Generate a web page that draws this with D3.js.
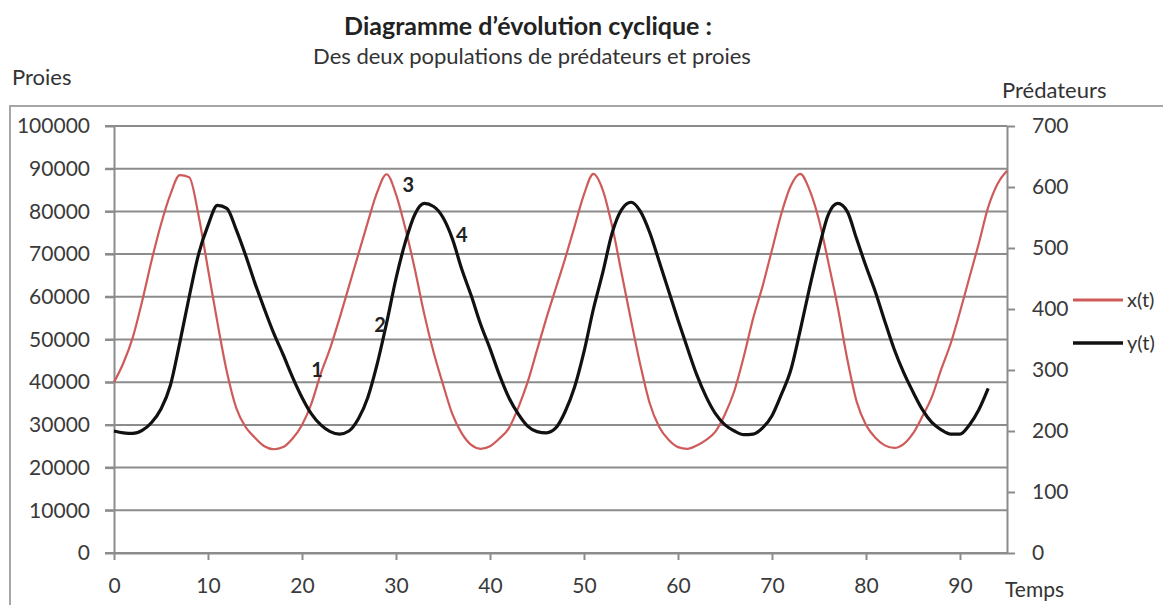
<!DOCTYPE html>
<html>
<head>
<meta charset="utf-8">
<script src="https://cdn.jsdelivr.net/npm/d3@7"></script>
<style>
	body { margin: 0; background: #fff; }
	text { font-family: Lato, "Open Sans", sans-serif; fill: #333; }
	.axis path, .axis line { stroke: #8c8c8c; stroke-width: 2; }
	.axis text { font-size: 21px; fill: #3a3a3a; }
	.grid line { stroke: #8c8c8c; stroke-width: 2; }
</style>
</head>
<body>
<div id="chart"></div>
<script>

// temps (t = 0 .. 95)
var temps = d3.range(0, 96);

// x(t) : proies (axe de gauche)
var proies = [
	40000, 44500, 50500, 59000, 68500, 77000, 84000, 88500, 88000, 79000,
	66500, 54000, 42500, 34000, 29500, 27000, 25000, 24300, 24800, 26800,
	30000, 35000, 42000, 48000, 55000, 62500, 70000, 77500, 84500, 88700,
	84000, 76000, 66500, 56000, 47000, 39500, 32500, 28000, 25300, 24400,
	25000, 26800, 29200, 34000, 40000, 47500, 55000, 62000, 69000, 76500,
	84000, 88800, 85000, 76500, 65500, 54500, 44000, 35000, 29500, 26500,
	24800, 24400, 25200, 26500, 28500, 32500, 38000, 46000, 55000, 62500,
	71000, 79500, 86000, 88800, 85000, 78000, 68000, 57500, 45500, 35500,
	30000, 27000, 25200, 24600, 25500, 28000, 32000, 36500, 43000, 49000,
	56500, 64500, 72500, 81000, 86500, 89500
];

// y(t) : predateurs (axe de droite), s'arrete a t = 93
var predateurs = [
	200, 197, 196, 201, 214, 236, 275, 345, 420, 490,
	537, 570, 565, 530, 488, 442, 400, 360, 325, 288,
	255, 228, 210, 199, 195, 200, 220, 255, 310, 377,
	450, 510, 555, 573, 568, 550, 515, 465, 422, 375,
	335, 292, 255, 228, 208, 199, 197, 205, 232, 272,
	330, 400, 460, 525, 563, 575, 560, 525, 478, 430,
	382, 336, 292, 256, 228, 210, 200, 194, 195, 205,
	225, 260, 300, 365, 435, 500, 555, 573, 560, 515,
	470, 428, 380, 334, 296, 264, 235, 214, 202, 195,
	195, 210, 235, 270
];

var xTicks = [0, 10, 20, 30, 40, 50, 60, 70, 80, 90];
var yLeftTicks = [0, 10000, 20000, 30000, 40000, 50000, 60000, 70000, 80000, 90000, 100000];
var yRightTicks = [0, 100, 200, 300, 400, 500, 600, 700];

// numeros places sur les courbes (t, valeur en proies)
var repereLabels = ["1", "2", "3", "4"];
var repereT = [21.6, 28.3, 31.3, 37.0];
var repereV = [42900, 53400, 86200, 74500];

var seriesNames = ["x(t)", "y(t)"];


/*
 *  CycleChart - Object constructor function
 *  @param _parentElement   -- HTML element in which to draw the visualization
 */

CycleChart = function(_parentElement) {

	this.parentElement = _parentElement;

	this.initVis();
}


/*
 *  Initialize chart
 */

CycleChart.prototype.initVis = function() {
	var vis = this;

	vis.W = 1163;
	vis.H = 605;
	vis.margin = {top: 126, right: 156, bottom: 52, left: 114};

	vis.width = vis.W - vis.margin.left - vis.margin.right;
	vis.height = vis.H - vis.margin.top - vis.margin.bottom;

	// DRAW SVG //
	vis.root = d3.select('#' + vis.parentElement).append("svg")
		.attr("width", vis.W)
		.attr("height", vis.H);

	// chart frame
	vis.root.append("rect")
		.attr("x", 10)
		.attr("y", 106)
		.attr("width", 1200)
		.attr("height", 600)
		.attr("fill", "none")
		.attr("stroke", "#a6a6a6")
		.attr("stroke-width", 2);

	vis.root.append("text")
		.attr("x", 528)
		.attr("y", 35)
		.attr("text-anchor", "middle")
		.style("font-size", "25px")
		.style("font-weight", "bold")
		.style("fill", "#222")
		.text("Diagramme d\u2019évolution cyclique :");

	vis.root.append("text")
		.attr("x", 532)
		.attr("y", 64)
		.attr("text-anchor", "middle")
		.style("font-size", "22px")
		.text("Des deux populations de prédateurs et proies");

	vis.root.append("text")
		.attr("x", 12)
		.attr("y", 85)
		.style("font-size", "22px")
		.text("Proies");

	vis.root.append("text")
		.attr("x", 1002)
		.attr("y", 98)
		.style("font-size", "22px")
		.text("Prédateurs");

	vis.svg = vis.root.append("g")
		.attr("transform", "translate(" + vis.margin.left + "," + vis.margin.top + ")");

	// SCALES //
	vis.x = d3.scaleLinear().domain([0, 95]).range([0, vis.width]);
	vis.yLeft = d3.scaleLinear().domain([0, 100000]).range([vis.height, 0]);
	vis.yRight = d3.scaleLinear().domain([0, 700]).range([vis.height, 0]);

	// gridlines
	vis.svg.append("g")
		.attr("class", "grid")
		.selectAll("line")
		.data(yLeftTicks)
		.enter().append("line")
		.attr("x1", -9)
		.attr("x2", vis.width)
		.attr("y1", function(d) { return vis.yLeft(d); })
		.attr("y2", function(d) { return vis.yLeft(d); });

	// AXES //
	vis.svg.append("g")
		.attr("class", "axis")
		.call(d3.axisLeft(vis.yLeft)
			.tickValues(yLeftTicks)
			.tickSize(9)
			.tickSizeOuter(0)
			.tickPadding(15)
			.tickFormat(d3.format("d")));

	vis.svg.append("g")
		.attr("class", "axis")
		.attr("transform", "translate(" + vis.width + ",0)")
		.call(d3.axisRight(vis.yRight)
			.tickValues(yRightTicks)
			.tickSize(8)
			.tickSizeOuter(0)
			.tickPadding(17));

	vis.svg.append("g")
		.attr("class", "axis")
		.attr("transform", "translate(0," + vis.height + ")")
		.call(d3.axisBottom(vis.x)
			.tickValues(xTicks)
			.tickSize(7)
			.tickSizeOuter(0)
			.tickPadding(18));

	vis.svg.append("text")
		.attr("x", vis.width - 2)
		.attr("y", vis.height + 44)
		.style("font-size", "21px")
		.text("Temps");

	vis.updateVis();
}


/*
 *  The drawing function
 */

CycleChart.prototype.updateVis = function() {
	var vis = this;

	var lineProies = d3.line()
		.x(function(d, i) { return vis.x(temps[i]); })
		.y(function(d) { return vis.yLeft(d); })
		.curve(d3.curveMonotoneX);

	var linePred = d3.line()
		.x(function(d, i) { return vis.x(temps[i]); })
		.y(function(d) { return vis.yRight(d); })
		.curve(d3.curveMonotoneX);

	vis.svg.append("path")
		.datum(proies)
		.attr("fill", "none")
		.attr("stroke", "#cf5a5a")
		.attr("stroke-width", 2.2)
		.attr("d", lineProies);

	vis.svg.append("path")
		.datum(predateurs)
		.attr("fill", "none")
		.attr("stroke", "#111")
		.attr("stroke-width", 3.2)
		.attr("d", linePred);

	// numeros 1..4
	vis.svg.selectAll(".repere")
		.data(repereLabels)
		.enter().append("text")
		.attr("class", "repere")
		.attr("x", function(d, i) { return vis.x(repereT[i]); })
		.attr("y", function(d, i) { return vis.yLeft(repereV[i]); })
		.attr("dy", "0.36em")
		.attr("text-anchor", "middle")
		.style("font-size", "20px")
		.style("font-weight", "bold")
		.style("fill", "#222")
		.text(function(d) { return d; });

	// LEGEND //
	var colors = ["#cf5a5a", "#111"];
	var widths = [3, 3.5];
	var legend = vis.root.append("g")
		.attr("transform", "translate(1073,300)");

	var item = legend.selectAll(".item")
		.data(seriesNames)
		.enter().append("g")
		.attr("class", "item")
		.attr("transform", function(d, i) { return "translate(0," + (i * 43) + ")"; });

	item.append("line")
		.attr("x1", 0)
		.attr("x2", 50)
		.attr("stroke", function(d, i) { return colors[i]; })
		.attr("stroke-width", function(d, i) { return widths[i]; });

	item.append("text")
		.attr("x", 54)
		.attr("dy", "0.35em")
		.style("font-size", "20px")
		.text(function(d) { return d; });
}

new CycleChart("chart");

</script>
</body>
</html>
